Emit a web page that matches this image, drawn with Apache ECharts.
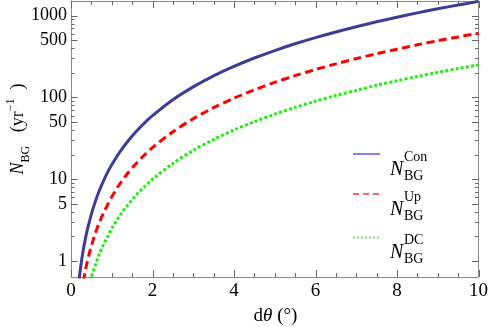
<!DOCTYPE html>
<html>
<head>
<meta charset="utf-8">
<script src="https://cdn.jsdelivr.net/npm/echarts@6/dist/echarts.min.js"></script>
<style>
html, body { margin: 0; padding: 0; background: #fff; }
#main { width: 491px; height: 327px; }
</style>
</head>
<body>
<div id="main"></div>
<script>
// dθ in degrees
var theta = [0.15, 0.2, 0.25, 0.3, 0.35, 0.4, 0.45, 0.5, 0.6, 0.7, 0.8, 0.9, 1, 1.2, 1.4, 1.6, 1.8, 2,
	2.5, 3, 3.5, 4, 4.5, 5, 5.5, 6, 6.5, 7, 7.5, 8, 8.5, 9, 9.5, 10];
// N_BG (yr^-1)
var nCon = [0.34, 0.6, 0.94, 1.35, 1.84, 2.4, 3.0, 3.75, 5.4, 7.4, 9.6, 12.2, 15, 21.6, 29.4, 38.4, 48.6, 60,
	94, 135, 184, 240, 304, 375, 454, 540, 634, 735, 844, 960, 1084, 1215, 1354, 1500];
var nUp = [0.14, 0.24, 0.38, 0.55, 0.75, 0.98, 1.24, 1.53, 2.2, 3.0, 3.9, 4.9, 6.1, 8.8, 12.0, 15.6, 19.8, 24.4,
	38, 55, 75, 98, 124, 153, 185, 220, 258, 299, 343, 390, 441, 494, 551, 610];
var nDC = [0.056, 0.1, 0.16, 0.23, 0.31, 0.4, 0.51, 0.63, 0.9, 1.23, 1.6, 2.0, 2.5, 3.6, 4.9, 6.4, 8.1, 10,
	15.6, 22.5, 30.6, 40, 50.6, 62.5, 75.6, 90, 106, 122, 141, 160, 181, 203, 226, 250];

var xMajor = [0, 2, 4, 6, 8, 10];
var xMinor = [0.5, 1, 1.5, 2.5, 3, 3.5, 4.5, 5, 5.5, 6.5, 7, 7.5, 8.5, 9, 9.5];
var yMajor = [1, 5, 10, 50, 100, 500, 1000];
var yMinor = [2, 3, 4, 6, 7, 8, 9, 20, 30, 40, 60, 70, 80, 90, 200, 300, 400, 600, 700, 800, 900];
var yMin = 0.637, yMax = 1515;

var frameColor = '#8c8c8c';
var tickColor = '#666666';
var fontName = '"Liberation Serif", "DejaVu Serif", serif';

function lg(v) { return Math.log10(v); }

function pares(xs, ys) {
	return xs.map(function (x, i) { return [x, lg(ys[i])]; });
}

// frame ticks: [value, 0 = x / 1 = y, length]
var marcas = [];
xMajor.forEach(function (v) { marcas.push([v, 0, 7]); });
xMinor.forEach(function (v) { marcas.push([v, 0, 4]); });
yMajor.forEach(function (v) { marcas.push([lg(v), 1, 6.5]); });
yMinor.forEach(function (v) { marcas.push([lg(v), 1, 3.5]); });

function desenharMarcas(params, api) {
	var v = api.value(0), eixo = api.value(1), len = api.value(2);
	var estilo = { stroke: tickColor, lineWidth: 1 };
	var linhas = [];
	if (eixo === 0) {
		var a = api.coord([v, lg(yMin)]), b = api.coord([v, lg(yMax)]);
		var x = Math.round(a[0]) + 0.5;
		linhas.push({ type: 'line', shape: { x1: x, y1: a[1], x2: x, y2: a[1] - len }, style: estilo });
		linhas.push({ type: 'line', shape: { x1: x, y1: b[1], x2: x, y2: b[1] + len }, style: estilo });
	} else {
		var c = api.coord([0, v]), d = api.coord([10, v]);
		var y = Math.round(c[1]) + 0.5;
		linhas.push({ type: 'line', shape: { x1: c[0], y1: y, x2: c[0] + len, y2: y }, style: estilo });
		linhas.push({ type: 'line', shape: { x1: d[0], y1: y, x2: d[0] - len, y2: y }, style: estilo });
	}
	return { type: 'group', children: linhas };
}

function eixoY(pos, rotulos) {
	return {
		type: 'value',
		position: pos,
		min: lg(yMin),
		max: lg(yMax),
		splitLine: { show: false },
		axisLine: { show: true, onZero: false, lineStyle: { color: frameColor, width: 1 } },
		axisTick: { show: false },
		axisLabel: rotulos ? {
			show: true, customValues: rotulos.map(lg), margin: 4,
			fontFamily: fontName, fontSize: 18, color: '#000',
			formatter: function (v) { return String(Math.round(Math.pow(10, v))); }
		} : { show: false }
	};
}

function eixoX(pos, rotulos) {
	return {
		type: 'value',
		position: pos,
		min: 0, max: 10,
		splitLine: { show: false },
		axisLine: { show: true, onZero: false, lineStyle: { color: frameColor, width: 1 } },
		axisTick: { show: false },
		axisLabel: rotulos ? {
			show: true, customValues: rotulos, margin: 5,
			fontFamily: fontName, fontSize: 19, color: '#000'
		} : { show: false }
	};
}

var legendas = [
	{ cy: 154, sup: 'Con', line: { stroke: '#4a4af0', lineWidth: 1.4 } },
	{ cy: 194, sup: 'Up', line: { stroke: '#ff3333', lineWidth: 1.4, lineDash: [6, 4] } },
	{ cy: 237.5, sup: 'DC', line: { stroke: '#55ee33', lineWidth: 1.6, lineDash: [2, 2] } }
];

var graficos = [];
legendas.forEach(function (l) {
	graficos.push({ type: 'line', shape: { x1: 353, y1: l.cy, x2: 380, y2: l.cy }, style: l.line });
	graficos.push({ type: 'text', x: 390, y: l.cy + 5.5,
		style: { text: 'N', font: 'italic 20px ' + fontName, fill: '#000', verticalAlign: 'alphabetic' } });
	graficos.push({ type: 'text', x: 404, y: l.cy - 4,
		style: { text: l.sup, font: '14px ' + fontName, fill: '#000', verticalAlign: 'alphabetic' } });
	graficos.push({ type: 'text', x: 404, y: l.cy + 15,
		style: { text: 'BG', font: '14px ' + fontName, fill: '#000', verticalAlign: 'alphabetic' } });
});

// y axis title
graficos.push({
	type: 'text', x: 18, y: 129, rotation: Math.PI / 2,
	style: {
		text: '{n|N}{s|BG}{t|   (yr}{u|−1}{t|  )}',
		align: 'center', verticalAlign: 'middle',
		rich: {
			n: { fontFamily: fontName, fontStyle: 'italic', fontSize: 18, lineHeight: 27, verticalAlign: 'middle', fill: '#000' },
			t: { fontFamily: fontName, fontSize: 18, lineHeight: 27, verticalAlign: 'middle', fill: '#000' },
			s: { fontFamily: fontName, fontSize: 12, lineHeight: 12, verticalAlign: 'bottom', fill: '#000' },
			u: { fontFamily: fontName, fontSize: 12, lineHeight: 12, verticalAlign: 'top', fill: '#000' }
		}
	}
});
// x axis title
graficos.push({
	type: 'text', x: 275.5, y: 316,
	style: {
		text: '{t|d}{i|θ}{t| (°)}',
		align: 'center', verticalAlign: 'middle',
		rich: {
			t: { fontFamily: fontName, fontSize: 19, fill: '#000' },
			i: { fontFamily: fontName, fontSize: 19, fontStyle: 'italic', fill: '#000' }
		}
	}
});

var myChart = echarts.init(document.getElementById('main'));
var option = {
	animation: false,
	textStyle: { fontFamily: fontName },
	grid: { left: 71, right: 11, top: 1, bottom: 50, containLabel: false },
	xAxis: [eixoX('bottom', xMajor), eixoX('top', null)],
	yAxis: [eixoY('left', yMajor), eixoY('right', null)],
	series: [
		{ name: 'ticks', type: 'custom', data: marcas, renderItem: desenharMarcas, silent: true, clip: false, z: 1 },
		{ name: 'Con', type: 'line', data: pares(theta, nCon), showSymbol: false, smooth: 0.3,
			lineStyle: { color: '#3d3d99', width: 3 }, z: 3 },
		{ name: 'Up', type: 'line', data: pares(theta, nUp), showSymbol: false, smooth: 0.3,
			lineStyle: { color: '#ff0000', width: 3, type: [8, 4.5] }, z: 3 },
		{ name: 'DC', type: 'line', data: pares(theta, nDC), showSymbol: false, smooth: 0.3,
			lineStyle: { color: '#22ee11', width: 3, type: [3, 2.2] }, z: 3 }
	],
	graphic: graficos
};
myChart.setOption(option);
</script>
</body>
</html>
